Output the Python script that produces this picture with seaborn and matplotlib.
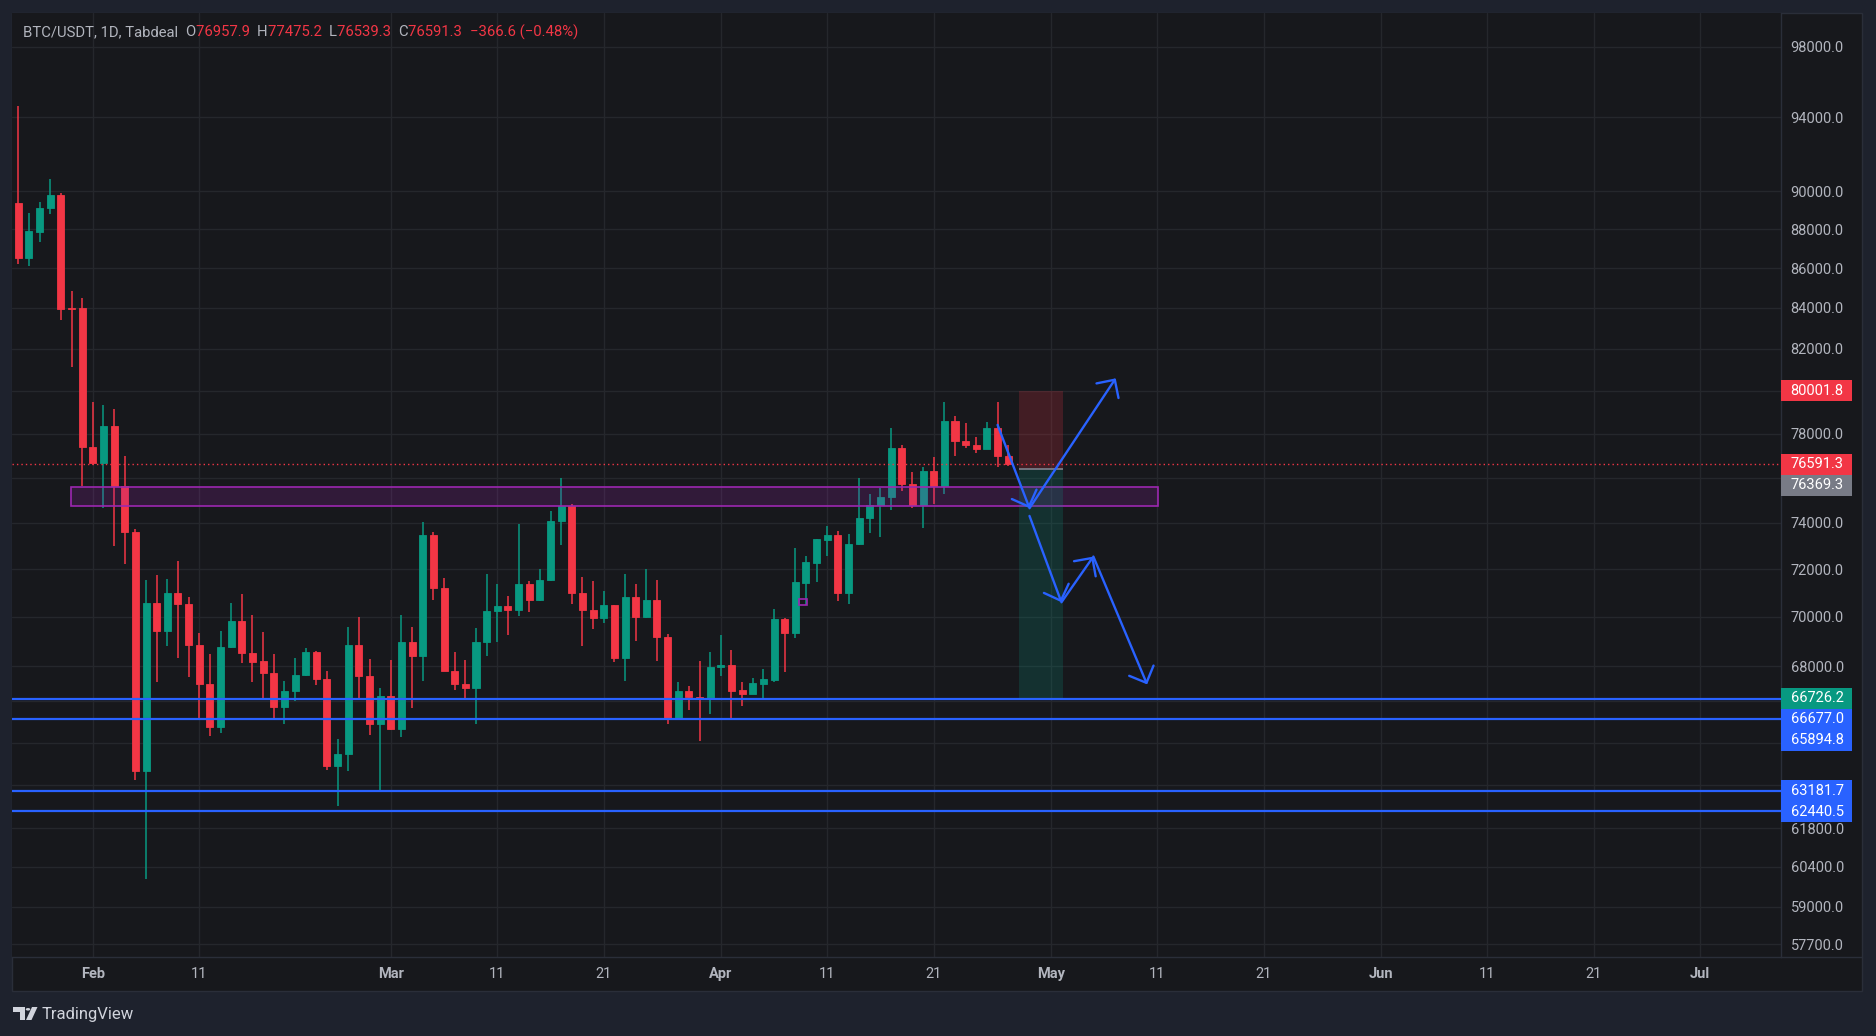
import numpy as np
import pandas as pd
import matplotlib
matplotlib.use("Agg")
import matplotlib.pyplot as plt
import seaborn as sns
from matplotlib.patches import Rectangle, FancyArrowPatch, Polygon, Circle
from matplotlib.lines import Line2D
import matplotlib.ticker as mticker
from matplotlib.transforms import IdentityTransform

# ---------------- data ----------------
start_date = "2026-01-25"
opens = [89378, 86513, 87872, 89108, 89784, 83975, 83975, 77402, 76667, 78370,
         75626, 73578, 63927, 70559, 69423, 71011, 70538, 68845, 67290, 65585,
         68784, 69835, 68536, 68186, 67732, 66385, 67003, 67636, 68577, 67482,
         64122, 64571, 68866, 67597, 65702, 66810, 65507, 68990, 68412, 73467,
         71204, 67808, 67290, 67137, 68990, 70247, 70455, 70268, 71355, 70710,
         71527, 74067, 74725, 70989, 70268, 69938, 70495, 68330, 70839, 69979,
         70710, 69175, 65956, 67003, 66791, 66715, 67962, 68062, 67041, 66887,
         67271, 67463, 69918, 69361, 71398, 72244, 73244, 73467, 71011, 73067,
         74198, 74769, 75143, 77356, 75714, 74769, 76276, 75626, 78568, 77678,
         77494, 77310, 78247, 76957.9]
highs = [94650, 88838, 89405, 90662, 89900, 84821, 84513, 79457, 79309, 79136,
         76966, 73733, 71527, 71763, 71570, 72333, 70839, 69361, 68474, 69443,
         70559, 70968, 70082, 69402, 68474, 67386, 68309, 68742, 68618, 67789,
         65137, 69567, 70000, 68267, 67117, 68226, 70082, 69567, 74022, 73600,
         71613, 68577, 68226, 69526, 71806, 71355, 70882, 73933, 71484, 72000,
         74511, 75978, 74813, 71656, 71484, 71097, 70516, 71806, 71355, 72022,
         71527, 69320, 67348, 67194, 68186, 68577, 69279, 68660, 67348, 67540,
         67866, 70330, 69958, 72889, 72556, 73289, 73844, 73644, 73511, 76000,
         75275, 75538, 78247, 77494, 76230, 76483, 76920, 79481, 78815, 78493,
         77862, 78518, 79481, 77475.2]
lows = [86205, 86103, 87359, 88811, 83407, 81146, 75626, 76552, 74659, 73000,
        72222, 63576, 59987, 67367, 68804, 68330, 67559, 65878, 65234, 65351,
        68722, 68124, 67367, 66677, 65956, 65722, 66619, 67617, 67252, 63966,
        62620, 63927, 66658, 65273, 63120, 65468, 65195, 66346, 67424, 70688,
        67808, 67041, 66638, 65722, 68412, 68990, 69258, 70021, 70187, 70667,
        71484, 73044, 70538, 68804, 69505, 69732, 68165, 67424, 69010, 69938,
        68206, 65722, 65956, 66268, 65078, 66112, 67617, 65917, 66424, 66887,
        66658, 67348, 67751, 69155, 70495, 71441, 72556, 70645, 70538, 73022,
        73556, 73378, 74549, 75406, 74637, 73778, 74813, 75275, 76966, 77333,
        77103, 77310, 76460, 76539.3]
closes = [86513, 87897, 89108, 89784, 83951, 83950, 77379, 76667, 78370, 75626,
          73578, 63927, 70559, 69423, 71011, 70538, 68845, 67290, 65585, 68784,
          69835, 68536, 68165, 67732, 66385, 67003, 67636, 68577, 67482, 64122,
          64571, 68866, 67597, 65702, 66810, 65507, 68990, 68412, 73467, 71204,
          67808, 67290, 67137, 68990, 70247, 70455, 70268, 71355, 70710, 71527,
          74067, 74725, 70989, 70268, 69938, 70495, 68330, 70839, 69979, 70710,
          69175, 65956, 67003, 66753, 66715, 67981, 68062, 67003, 66887, 67310,
          67501, 69918, 69361, 71441, 72289, 73289, 73489, 71011, 73067, 74198,
          74769, 75143, 77356, 75714, 74769, 76276, 75626, 78568, 77678, 77494,
          77310, 78247, 76957.9, 76591.3]

header_symbol = "BTC/USDT, 1D, Tabdeal"
header_fields = [("O", "76957.9"), ("H", "77475.2"), ("L", "76539.3"), ("C", "76591.3")]
header_change = "\u2212366.6 (\u22120.48%)"
last_price = 76591.3

# horizontal support lines
hlines = [66677.0, 65894.8, 63181.7, 62440.5]
# resistance / support zone (day offsets from start, prices)
zone_days = (4.98, 107.1)
zone_prices = (74730, 75600)
small_box_days = (73.3, 74.05)
small_box_prices = (70495, 70753)
# short position tool
pos_days = (94.0, 98.1)
pos_entry, pos_stop, pos_target = 76369.3, 80001.8, 66726.2
# arrows: (day, price) start -> end
arrows = [((92.0, 78400), (95.0, 74640)),
          ((95.0, 74640), (103.1, 80585)),
          ((95.0, 74300), (98.0, 70610)),
          ((98.0, 70610), (101.0, 72540)),
          ((101.0, 72540), (106.05, 67270))]

price_ticks = [57700, 59000, 60400, 61800, 63400, 65000, 66600, 68000, 70000, 72000,
               74000, 76000, 78000, 80000, 82000, 84000, 86000, 88000, 90000, 94000, 98000]
time_tick_days = [7, 17, 35, 45, 55, 66, 76, 86, 97, 107, 117, 128, 138, 148, 158]
time_tick_labels = ["Feb", "11", "Mar", "11", "21", "Apr", "11", "21",
                    "May", "11", "21", "Jun", "11", "21", "Jul"]
month_labels = {"Feb", "Mar", "Apr", "May", "Jun", "Jul"}

axis_labels = [80001.8, 76591.3, 76369.3, 66726.2, 66677.0, 65894.8, 63181.7, 62440.5]
axis_label_colors = ["#f23645", "#f23645", "#787b86", "#089981",
                     "#2962ff", "#2962ff", "#2962ff", "#2962ff"]

# ---------------- style ----------------
OUTER = "#1e222d"
PANE = "#17181c"
GRID = "#25272c"
SEP = "#2a2e39"
TXT = "#b2b5be"
UP = "#089981"
DOWN = "#f23645"
BLUE = "#2962ff"

sns.set_theme(style="dark")
plt.rcParams["font.family"] = ["Roboto", "DejaVu Sans"]
plt.rcParams["axes.unicode_minus"] = True

W, H = 1876, 1036
fig = plt.figure(figsize=(W / 100, H / 100), dpi=100, facecolor=OUTER)


def fx(x):
    return x / W


def fy(y):
    return 1 - y / H


# pane background
fig.add_artist(Rectangle((fx(12), fy(991)), fx(1862) - fx(12), fy(13) - fy(991),
                         transform=fig.transFigure, fc=PANE, ec=SEP, lw=1, zorder=0))

ax = fig.add_axes([fx(12), fy(957), fx(1781) - fx(12), fy(13) - fy(957)])
ax.set_facecolor(PANE)
ax.set_yscale("log")
ax.set_xlim(-0.59, 165.6)
ax.set_ylim(57275, 99970)

df = pd.DataFrame({"open": opens, "high": highs, "low": lows, "close": closes})
df["day"] = np.arange(len(df))
df["date"] = pd.Timestamp(start_date) + pd.to_timedelta(df["day"], unit="D")
df["up"] = df["close"] >= df["open"]
colors = np.where(df["up"], UP, DOWN)

# wicks
ax.vlines(df["day"], df["low"], df["high"], colors=colors, lw=1.1, zorder=2)
# bodies
body_bottom = np.minimum(df["open"], df["close"])
body_height = np.abs(df["close"] - df["open"])
ax.bar(df["day"], body_height, bottom=body_bottom, width=0.66, color=colors,
       edgecolor=colors, linewidth=0.6, zorder=3)

# grid
ax.set_yticks(price_ticks)
ax.yaxis.set_minor_locator(mticker.NullLocator())
ax.set_xticks(time_tick_days)
ax.grid(True, color=GRID, lw=1, zorder=0)
ax.set_axisbelow(True)

# zone
ax.add_patch(Rectangle((zone_days[0], zone_prices[0]), zone_days[1] - zone_days[0],
                       zone_prices[1] - zone_prices[0],
                       fc=(156 / 255, 39 / 255, 176 / 255, 0.2), ec="#9c27b0", lw=1.2, zorder=4))
ax.add_patch(Rectangle((small_box_days[0], small_box_prices[0]),
                       small_box_days[1] - small_box_days[0],
                       small_box_prices[1] - small_box_prices[0],
                       fc="none", ec="#9c27b0", lw=1.2, zorder=4))

# short position tool
ax.add_patch(Rectangle((pos_days[0], pos_entry), pos_days[1] - pos_days[0], pos_stop - pos_entry,
                       fc=(242 / 255, 54 / 255, 69 / 255, 0.2), ec="none", zorder=4))
ax.add_patch(Rectangle((pos_days[0], pos_target), pos_days[1] - pos_days[0], pos_entry - pos_target,
                       fc=(8 / 255, 153 / 255, 129 / 255, 0.2), ec="none", zorder=4))
ax.hlines(pos_entry, pos_days[0], pos_days[1], color="#787b86", lw=1.3, zorder=5)

# horizontal lines
for lvl in hlines:
    ax.axhline(lvl, color=BLUE, lw=1.6, zorder=5)

# last price dotted line
ax.axhline(last_price, color=DOWN, lw=1.0, ls=(0, (1, 2.2)), zorder=5)

# arrows
for (p0, p1) in arrows:
    arr = FancyArrowPatch(p0, p1, arrowstyle="->,head_length=0.95,head_width=0.95",
                          mutation_scale=10, color=BLUE, lw=1.7, shrinkA=0, shrinkB=0,
                          zorder=6)
    ax.add_patch(arr)

# spines
for s in ["top", "left"]:
    ax.spines[s].set_visible(False)
for s in ["right", "bottom"]:
    ax.spines[s].set_color(SEP)
    ax.spines[s].set_linewidth(1)
fig.add_artist(Line2D([fx(1781), fx(1862)], [fy(957), fy(957)], transform=fig.transFigure,
                      color=SEP, lw=1))

# axis labels (price tags) with stacking
LH = 21
to_pix = ax.transData.transform
label_pix = []
prev = None
for v in axis_labels:
    yp = to_pix((0, v))[1]
    if prev is not None and yp > prev - LH:
        yp = prev - LH
    label_pix.append(yp)
    prev = yp

x0_pix = 1781
for v, c, yp in zip(axis_labels, axis_label_colors, label_pix):
    fig.add_artist(Rectangle((x0_pix, yp - LH / 2), 71, LH, transform=IdentityTransform(),
                             fc=c, ec="none", zorder=10))
    fig.text(fx(1790.5), yp / H, f"{v:.1f}", color="white", fontsize=10.5,
             va="center", ha="left", zorder=11)

# y tick labels, hidden where tags cover them
ylabels = []
for t in price_ticks:
    tp = to_pix((0, t))[1]
    hidden = any(abs(tp - lp) < 15 for lp in label_pix)
    ylabels.append("" if hidden else f"{t:.1f}")
ax.yaxis.tick_right()
ax.set_yticklabels(ylabels)
ax.tick_params(axis="y", length=0, pad=7, labelcolor=TXT, labelsize=10.5)

ax.set_xticklabels(time_tick_labels)
ax.tick_params(axis="x", length=0, pad=7, labelcolor=TXT, labelsize=10.5)
for lab in ax.get_xticklabels():
    if lab.get_text() in month_labels:
        lab.set_fontweight("bold")

ax.set_xlabel("")
ax.set_ylabel("")

# header legend
renderer = fig.canvas.get_renderer()
xpos = fx(22.7)
ypos = fy(32.5)
pieces = [(header_symbol + "  ", TXT)]
for k, v in header_fields:
    pieces.append((k, TXT))
    pieces.append((v + "  ", DOWN))
pieces.append((header_change, DOWN))
for txt, col in pieces:
    t = fig.text(xpos, ypos, txt, color=col, fontsize=10.7, va="center", ha="left", zorder=12)
    bb = t.get_window_extent(renderer=renderer)
    xpos += bb.width / W

# TradingView logo
logo_col = "#d1d4dc"
fig.add_artist(Polygon([(fx(13), fy(1007)), (fx(24.5), fy(1007)), (fx(24.5), fy(1020)),
                        (fx(19.5), fy(1020)), (fx(19.5), fy(1011.5)), (fx(13), fy(1011.5))],
                       closed=True, transform=fig.transFigure, fc=logo_col, ec="none"))
fig.add_artist(Circle((fx(28), fy(1009.3)), 2.3 / W, transform=fig.transFigure,
                      fc=logo_col, ec="none"))
fig.add_artist(Polygon([(fx(32), fy(1007)), (fx(37.5), fy(1007)), (fx(31.5), fy(1020)),
                        (fx(26), fy(1020))],
                       closed=True, transform=fig.transFigure, fc=logo_col, ec="none"))
fig.text(fx(42), fy(1014.5), "TradingView", color=logo_col, fontsize=12, va="center", ha="left")

fig.savefig("out.png", dpi=100, facecolor=OUTER)
